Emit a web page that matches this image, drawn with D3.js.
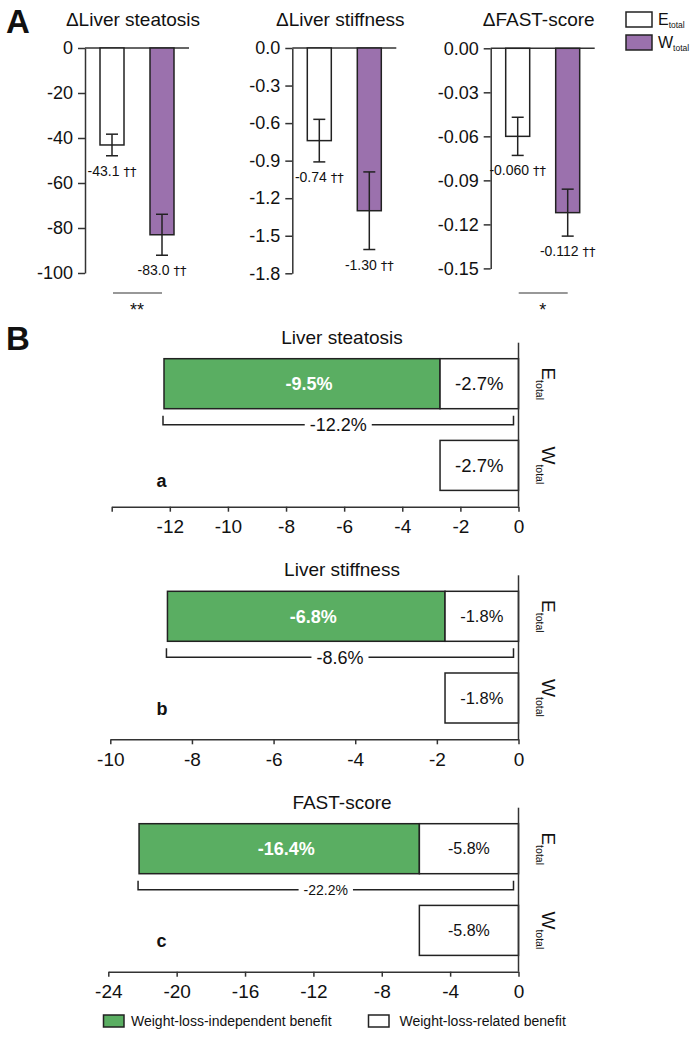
<!DOCTYPE html>
<html><head><meta charset="utf-8">
<script src="https://cdn.jsdelivr.net/npm/d3@7"></script>
<style>
body{margin:0;background:#fff}
svg{display:block}
text{font-family:"Liberation Sans",Arial,Helvetica,sans-serif;fill:#111}
</style>
</head><body>
<svg id="chart" width="692" height="1042"></svg>
<script>
// ---------- DATA ----------
const groups = ["Etotal", "Wtotal"];
const panelATitles = ["\u0394Liver steatosis", "\u0394Liver stiffness", "\u0394FAST-score"];
const steatosisMeans = [-43.1, -83.0];
const steatosisErr = [4.8, 9.1];
const stiffnessMeans = [-0.74, -1.30];
const stiffnessErr = [0.17, 0.31];
const fastMeans = [-0.060, -0.112];
const fastErr = [0.013, 0.016];
const steatosisTicks = [0, -20, -40, -60, -80, -100];
const stiffnessTicks = [0, -0.3, -0.6, -0.9, -1.2, -1.5, -1.8];
const fastTicks = [0, -0.03, -0.06, -0.09, -0.12, -0.15];
const significance = ["**", "", "*"];
const valueMark = "\u2020\u2020";

const benefitTitles = ["Liver steatosis", "Liver stiffness", "FAST-score"];
const benefitLetters = ["a", "b", "c"];
const independentBenefit = [-9.5, -6.8, -16.4];
const relatedBenefit = [-2.7, -1.8, -5.8];
const totalBenefit = [-12.2, -8.6, -22.2];
const benefitDomainMin = [-14, -10, -24];
const benefitTicks = [
  [-14, -12, -10, -8, -6, -4, -2, 0],
  [-10, -8, -6, -4, -2, 0],
  [-24, -20, -16, -12, -8, -4, 0]
];
const benefitTickLabels = [
  ["", "-12", "-10", "-8", "-6", "-4", "-2", "0"],
  ["-10", "-8", "-6", "-4", "-2", "0"],
  ["-24", "-20", "-16", "-12", "-8", "-4", "0"]
];
const legendLabels = ["Weight-loss-independent benefit", "Weight-loss-related benefit"];

// ---------- STYLE / LAYOUT ----------
const STROKE = "#222", AXIS = "#333";
const PURPLE = "#9b71ad", GREEN = "#5aae62";
const fixMinus = s => s.replace(/\u2212/g, "-");
const svg = d3.select("#chart");

// ---------- PANEL A ----------
svg.append("text").attr("x", 6).attr("y", 33).attr("font-size", 33).attr("font-weight", "bold").text("A");

const panelsA = [
  {means: steatosisMeans, err: steatosisErr, ticks: steatosisTicks, tf: d3.format("d"), vf: d3.format(".1f"), axisX: 85, yRange: [273, 48]},
  {means: stiffnessMeans, err: stiffnessErr, ticks: stiffnessTicks, tf: d3.format(".1f"), vf: d3.format(".2f"), axisX: 292.3, yRange: [273.3, 48]},
  {means: fastMeans, err: fastErr, ticks: fastTicks, tf: d3.format(".2f"), vf: d3.format(".3f"), axisX: 490.7, yRange: [268.4, 48.3]}
];

panelsA.forEach((p, i) => {
  const y = d3.scaleLinear().domain([d3.min(p.ticks), 0]).range(p.yRange);
  const x = d3.scalePoint().domain(groups).range([p.axisX + 27, p.axisX + 77]);
  const g = svg.append("g");

  g.append("text").attr("x", p.axisX + 48).attr("y", 26).attr("text-anchor", "middle")
    .attr("font-size", 19).text(panelATitles[i]);

  const ax = g.append("g").attr("transform", `translate(${p.axisX},0)`)
    .call(d3.axisLeft(y).tickValues(p.ticks).tickSize(7).tickSizeOuter(0).tickPadding(5)
      .tickFormat(d => fixMinus(p.tf(d))));
  ax.selectAll("path,line").attr("stroke", AXIS).attr("stroke-width", 1.5);
  ax.selectAll("text").attr("font-size", 18).attr("fill", "#111")
    .attr("font-family", '"Liberation Sans",Arial,sans-serif');

  g.append("line").attr("x1", p.axisX).attr("x2", p.axisX + 104)
    .attr("y1", y(0)).attr("y2", y(0)).attr("stroke", AXIS).attr("stroke-width", 1.5);

  groups.forEach((grp, j) => {
    const m = p.means[j], e = p.err[j];
    g.append("rect").attr("x", x(grp) - 12).attr("width", 24)
      .attr("y", y(0)).attr("height", y(m) - y(0))
      .attr("fill", j === 0 ? "#fff" : PURPLE).attr("stroke", STROKE).attr("stroke-width", 1.5);
    g.append("line").attr("x1", x(grp)).attr("x2", x(grp))
      .attr("y1", y(m + e)).attr("y2", y(m - e)).attr("stroke", STROKE).attr("stroke-width", 1.5);
    [m + e, m - e].forEach(v => g.append("line").attr("x1", x(grp) - 6).attr("x2", x(grp) + 6)
      .attr("y1", y(v)).attr("y2", y(v)).attr("stroke", STROKE).attr("stroke-width", 1.5));
    const t = g.append("text").attr("x", x(grp)).attr("y", y(m - e) + 20).attr("text-anchor", "middle")
      .attr("font-size", 14).text(fixMinus(p.vf(m)) + " ");
    t.append("tspan").style("font-family", '"DejaVu Sans","Liberation Sans",sans-serif')
      .style("fill", "#111").attr("font-size", 13).text(valueMark);
  });

  if (significance[i]) {
    g.append("line").attr("x1", x(groups[0]) + 1).attr("x2", x(groups[1]))
      .attr("y1", 293).attr("y2", 293).attr("stroke", AXIS).attr("stroke-width", 1.2);
    g.append("text").attr("x", (x(groups[0]) + x(groups[1])) / 2).attr("y", 316)
      .attr("text-anchor", "middle").attr("font-size", 18).text(significance[i]);
  }
});

// legend A
[["E", "#fff", 12], ["W", PURPLE, 35]].forEach(([lab, fill, yy]) => {
  svg.append("rect").attr("x", 626).attr("y", yy).attr("width", 26).attr("height", 15)
    .attr("fill", fill).attr("stroke", STROKE).attr("stroke-width", 1.5);
  const t = svg.append("text").attr("x", 658).attr("y", yy + 13).attr("font-size", 16).text(lab);
  t.append("tspan").attr("font-size", 8.5).attr("dy", 2.5).text("total");
});

// ---------- PANEL B ----------
svg.append("text").attr("x", 6).attr("y", 350).attr("font-size", 33).attr("font-weight", "bold").text("B");

const bLayout = [
  {axisY: 506.7, left: 111.7, relFs: 18.5, brFs: 18, letterDy: 19.5},
  {axisY: 739.3, left: 110.3, relFs: 16.5, brFs: 18, letterDy: 24},
  {axisY: 971.7, left: 108.3, relFs: 16, brFs: 14, letterDy: 24.5}
];
const ZERO_X = 518.5;

bLayout.forEach((L, i) => {
  const g = svg.append("g");
  const x = d3.scaleLinear().domain([benefitDomainMin[i], 0]).range([L.left, ZERO_X]);
  const y = d3.scaleBand().domain(groups).range([L.axisY - 148, L.axisY - 16.3])
    .paddingInner(0.388).paddingOuter(0);
  const bw = y.bandwidth();

  g.append("text").attr("x", 342).attr("y", L.axisY - 163).attr("text-anchor", "middle")
    .attr("font-size", 19).text(benefitTitles[i]);

  // bars
  const ind = independentBenefit[i], rel = relatedBenefit[i], tot = totalBenefit[i];
  const yE = y(groups[0]), yW = y(groups[1]);
  g.append("rect").attr("x", x(tot)).attr("width", x(rel) - x(tot)).attr("y", yE).attr("height", bw)
    .attr("fill", GREEN).attr("stroke", STROKE).attr("stroke-width", 1.5);
  [yE, yW].forEach(yy => g.append("rect").attr("x", x(rel)).attr("width", x(0) - x(rel))
    .attr("y", yy).attr("height", bw).attr("fill", "#fff").attr("stroke", STROKE).attr("stroke-width", 1.5));

  g.append("text").attr("x", (x(tot) + x(rel)) / 2 + 7).attr("y", yE + bw / 2 + 6.5)
    .attr("text-anchor", "middle").attr("font-size", 18).attr("font-weight", "bold")
    .style("fill", "#fff").text(fixMinus(d3.format(".1f")(ind)) + "%");
  [yE, yW].forEach(yy => g.append("text").attr("x", (x(rel) + x(0)) / 2)
    .attr("y", yy + bw / 2 + L.relFs * 0.36).attr("text-anchor", "middle").attr("font-size", L.relFs)
    .text(fixMinus(d3.format(".1f")(rel)) + "%"));

  // axes
  g.append("line").attr("x1", x(0)).attr("x2", x(0)).attr("y1", L.axisY - 164).attr("y2", L.axisY)
    .attr("stroke", AXIS).attr("stroke-width", 1.5);
  const ax = g.append("g").attr("transform", `translate(0,${L.axisY})`)
    .call(d3.axisBottom(x).tickValues(benefitTicks[i]).tickSize(5).tickSizeOuter(0).tickPadding(8)
      .tickFormat((d, k) => benefitTickLabels[i][k]));
  ax.selectAll("path,line").attr("stroke", AXIS).attr("stroke-width", 1.5);
  ax.selectAll("text").attr("font-size", 19).attr("fill", "#111")
    .attr("font-family", '"Liberation Sans",Arial,sans-serif');

  // bracket
  const by = L.axisY - 82, xl = x(tot) - 1, xr = x(0) - 5, cx = (xl + xr) / 2;
  const bt = g.append("text").attr("x", cx).attr("y", by + L.brFs * 0.36).attr("text-anchor", "middle")
    .attr("font-size", L.brFs).text(fixMinus(d3.format(".1f")(tot)) + "%");
  const tw = bt.node().getComputedTextLength();
  g.append("path").attr("d", `M${xl},${by - 9}V${by}H${cx - tw / 2 - 5}`)
    .attr("fill", "none").attr("stroke", STROKE).attr("stroke-width", 1.5);
  g.append("path").attr("d", `M${cx + tw / 2 + 5},${by}H${xr}V${by - 9}`)
    .attr("fill", "none").attr("stroke", STROKE).attr("stroke-width", 1.5);

  // rotated group labels
  groups.forEach(grp => {
    const t = g.append("text")
      .attr("transform", `translate(${x(0) + 23},${y(grp) + bw / 2}) rotate(90)`)
      .attr("text-anchor", "middle").attr("font-size", 19).text(grp.charAt(0));
    t.append("tspan").attr("font-size", 10.5).attr("dy", 5.5).text(grp.slice(1));
  });

  g.append("text").attr("x", 156.5).attr("y", L.axisY - L.letterDy).attr("font-size", 18)
    .attr("font-weight", "bold").text(benefitLetters[i]);
});

// legend B
[[GREEN, 103.5, 131], ["#fff", 368.5, 399.5]].forEach(([fill, rx, tx], k) => {
  svg.append("rect").attr("x", rx).attr("y", 1015).attr("width", 20.5).attr("height", 12)
    .attr("fill", fill).attr("stroke", STROKE).attr("stroke-width", 1.5);
  svg.append("text").attr("x", tx).attr("y", 1026).attr("font-size", 14).text(legendLabels[k]);
});
</script>
</body></html>
